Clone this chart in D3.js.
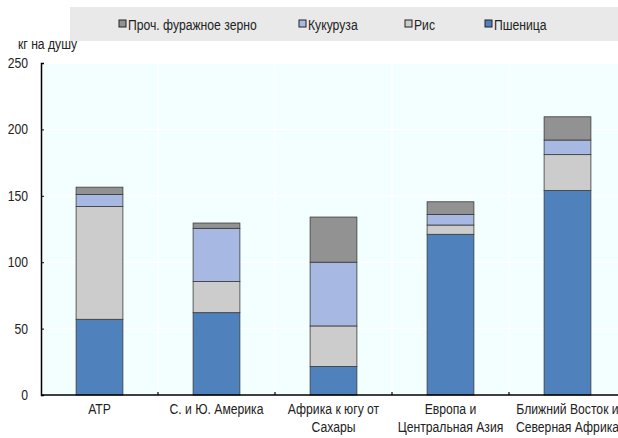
<!DOCTYPE html>
<html>
<head>
<meta charset="utf-8">
<script src="https://cdn.jsdelivr.net/npm/d3@7"></script>
<style>
  body { margin: 0; background: #fff; }
  svg { display: block; }
</style>
</head>
<body>
<div id="container"></div>
<script>
let regions = [['АТР'], ['С. и Ю. Америка'], ['Африка к югу от', 'Сахары'], ['Европа и', 'Центральная Азия'], ['Ближний Восток и', 'Северная Африка']];
let wheat = [57, 62, 21.5, 121, 154];
let rice = [85, 23.5, 30.5, 7, 27];
let maize = [9, 40, 48, 8, 11];
let otherGrain = [5.5, 4, 34, 9.5, 17.5];
let seriesNames = ['Пшеница', 'Рис', 'Кукуруза', 'Проч. фуражное зерно'];
let yTicks = [0, 50, 100, 150, 200, 250];

let colors = ['#4f81bd', '#cccccc', '#a7b9e3', '#929292'];
let font = '"Liberation Sans", Arial, sans-serif';
let squeeze = 0.87;  // the original uses a narrow face

let w = 618, h = 438;
let pLeft = 41, pTop = 63, pBottom = 395, pRight = 626;

let viz = d3.select('#container')
    .append('svg')
      .attr('width', w)
      .attr('height', h)
      .style('font-family', font);

function main() {
    let rows = regions.map((r, i) => ({
        key: i,
        'Пшеница': wheat[i],
        'Рис': rice[i],
        'Кукуруза': maize[i],
        'Проч. фуражное зерно': otherGrain[i]
    }));
    let stacked = d3.stack().keys(seriesNames)(rows);

    let x = d3.scaleBand().domain(d3.range(regions.length)).range([pLeft, pRight]).paddingInner(0.6).paddingOuter(0.3);
    let xb = d3.scaleBand().domain(d3.range(regions.length)).range([pLeft, pRight]);
    let y = d3.scaleLinear().domain([0, 250]).range([pBottom, pTop]);

    // plot background
    viz.append('rect')
        .attr('x', pLeft).attr('y', pTop)
        .attr('width', w - pLeft).attr('height', pBottom - pTop)
        .attr('fill', '#f3ffff');

    // gridlines
    viz.append('g').selectAll('line').data(yTicks.slice(1)).join('line')
        .attr('x1', pLeft).attr('x2', w)
        .attr('y1', d => y(d)).attr('y2', d => y(d))
        .attr('stroke', '#fff').attr('stroke-width', 1.5);
    viz.append('g').selectAll('line').data(d3.range(1, regions.length)).join('line')
        .attr('x1', d => xb(d)).attr('x2', d => xb(d))
        .attr('y1', pTop).attr('y2', pBottom)
        .attr('stroke', '#fff').attr('stroke-width', 1.5);

    // bars
    viz.append('g').selectAll('g').data(stacked).join('g')
        .attr('fill', (d, i) => colors[i])
      .selectAll('rect').data(d => d).join('rect')
        .attr('x', d => x(d.data.key))
        .attr('width', x.bandwidth())
        .attr('y', d => y(d[1]))
        .attr('height', d => y(d[0]) - y(d[1]))
        .attr('stroke', '#3a3a3a')
        .attr('stroke-width', 0.8);

    // y axis
    let yAxis = viz.append('g')
        .attr('transform', 'translate(' + pLeft + ',0)')
        .call(d3.axisLeft(y).tickValues(yTicks).tickSize(-3));
    yAxis.select('.domain').attr('stroke', '#000').attr('stroke-width', 1.5);
    yAxis.selectAll('.tick line').attr('stroke', '#000');
    yAxis.selectAll('text')
        .attr('x', 0)
        .attr('transform', 'translate(-13,0) scale(' + squeeze + ',1)')
        .attr('font-family', font).attr('font-size', 14).attr('fill', '#222');

    // x axis
    viz.append('line')
        .attr('x1', pLeft).attr('x2', w)
        .attr('y1', pBottom).attr('y2', pBottom)
        .attr('stroke', '#000').attr('stroke-width', 1.5);
    viz.append('g').selectAll('line').data(d3.range(1, regions.length)).join('line')
        .attr('x1', d => xb(d)).attr('x2', d => xb(d))
        .attr('y1', pBottom).attr('y2', pBottom - 3)
        .attr('stroke', '#000').attr('stroke-width', 1.2);

    let labels = viz.append('g').selectAll('text').data(regions).join('text')
        .attr('text-anchor', 'middle')
        .attr('font-size', 14)
        .attr('fill', '#222')
        .attr('transform', (d, i) => 'translate(' + (xb(i) + xb.bandwidth() / 2) + ',' + 414 + ') scale(' + squeeze + ',1)');
    labels.selectAll('tspan').data(d => d).join('tspan')
        .attr('x', 0)
        .attr('dy', (d, j) => j === 0 ? 0 : 18)
        .text(d => d);

    // y label
    viz.append('text')
        .attr('transform', 'translate(18,49) scale(' + squeeze + ',1)')
        .attr('font-size', 14).attr('fill', '#222')
        .text('кг на душу');

    // legend
    viz.append('rect')
        .attr('x', 70).attr('y', 7)
        .attr('width', w - 70).attr('height', 34)
        .attr('fill', '#e9e9e9');
    let legendItems = [
        {name: 'Проч. фуражное зерно', color: colors[3], x: 119},
        {name: 'Кукуруза', color: colors[2], x: 299},
        {name: 'Рис', color: colors[1], x: 405},
        {name: 'Пшеница', color: colors[0], x: 485}
    ];
    let lg = viz.append('g').selectAll('g').data(legendItems).join('g')
        .attr('transform', d => 'translate(' + d.x + ',' + 25 + ')');
    lg.append('rect')
        .attr('x', 0).attr('y', -5)
        .attr('width', 7).attr('height', 7)
        .attr('fill', d => d.color)
        .attr('stroke', '#222').attr('stroke-width', 1);
    lg.append('text')
        .attr('transform', 'translate(9,5) scale(' + squeeze + ',1)')
        .attr('font-size', 14).attr('fill', '#222')
        .text(d => d.name);
}

main();
</script>
</body>
</html>
